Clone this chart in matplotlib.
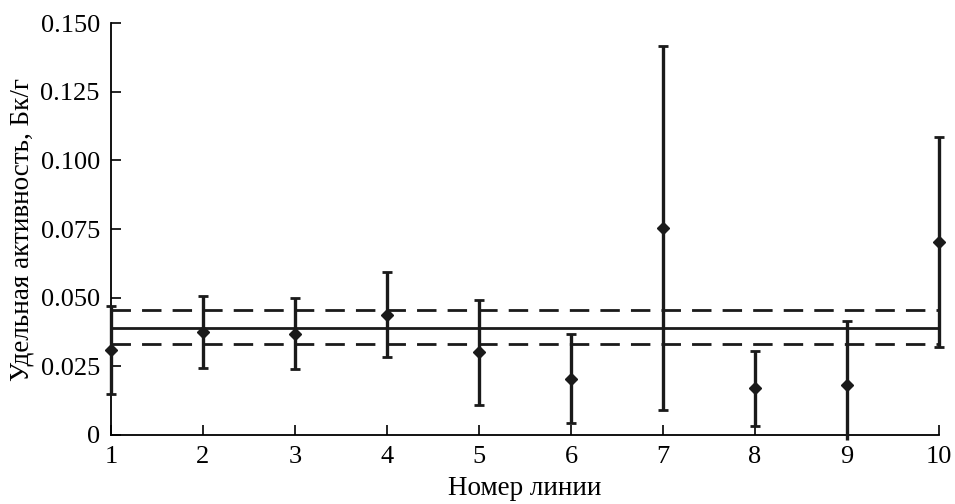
import numpy as np
from matplotlib import pyplot as plt

plt.rcParams['font.family'] = ['Liberation Serif', 'DejaVu Serif']

# номер линии, удельная активность и границы погрешности (Бк/г)
lines = [1, 2, 3, 4, 5, 6, 7, 8, 9, 10]
activity = [0.0309, 0.0374, 0.0367, 0.0437, 0.0301, 0.0204, 0.0754, 0.0170, 0.0182, 0.0704]
upper = [0.0471, 0.0507, 0.0498, 0.0592, 0.0491, 0.0368, 0.1417, 0.0307, 0.0416, 0.1086]
lower = [0.0149, 0.0243, 0.0240, 0.0283, 0.0110, 0.0043, 0.0092, 0.0034, -0.0018, 0.0322]
mean_value = 0.0391
mean_band = [0.0331, 0.0455]

act = np.array(activity)
yerr = [act - np.array(lower), np.array(upper) - act]

fig = plt.figure(figsize=(9.55, 5.04), dpi=100)
ax = fig.add_axes([0.1162, 0.137, 0.8670, 0.817])

ax.axhline(mean_value, color='#1a1a1a', lw=2.0)
for b in mean_band:
    ax.axhline(b, color='#1a1a1a', lw=2.0, dashes=(7, 4))

eb = ax.errorbar(lines, activity, yerr=yerr, fmt='D', color='#1a1a1a', ms=6.5,
                 ecolor='#1a1a1a', elinewidth=2.4, capsize=3.5, capthick=2.0, zorder=3)
for artist in [eb[0], *eb[1], *eb[2]]:
    artist.set_clip_on(False)
# у линии 9 нижняя граница уходит ниже нуля, засечки нет
eb[1][0].set_markevery([i for i in range(len(lines)) if lower[i] >= 0])

ax.set_xlim(1, 10)
ax.set_ylim(0, 0.150)
ax.set_xticks(lines)
ax.set_yticks([0, 0.025, 0.05, 0.075, 0.1, 0.125, 0.15])
ax.set_yticklabels(['0', '0.025', '0.050', '0.075', '0.100', '0.125', '0.150'])
ax.tick_params(direction='in', length=7, width=1.2, labelsize=19, pad=8)

for s in ['top', 'right']:
    ax.spines[s].set_visible(False)
for s in ['left', 'bottom']:
    ax.spines[s].set_linewidth(1.3)

ax.set_xlabel('Номер линии', fontsize=19.5, labelpad=6)
ax.set_ylabel('Удельная активность, Бк/г', fontsize=19.5, labelpad=4)

fig.savefig('out.png', dpi=100)
